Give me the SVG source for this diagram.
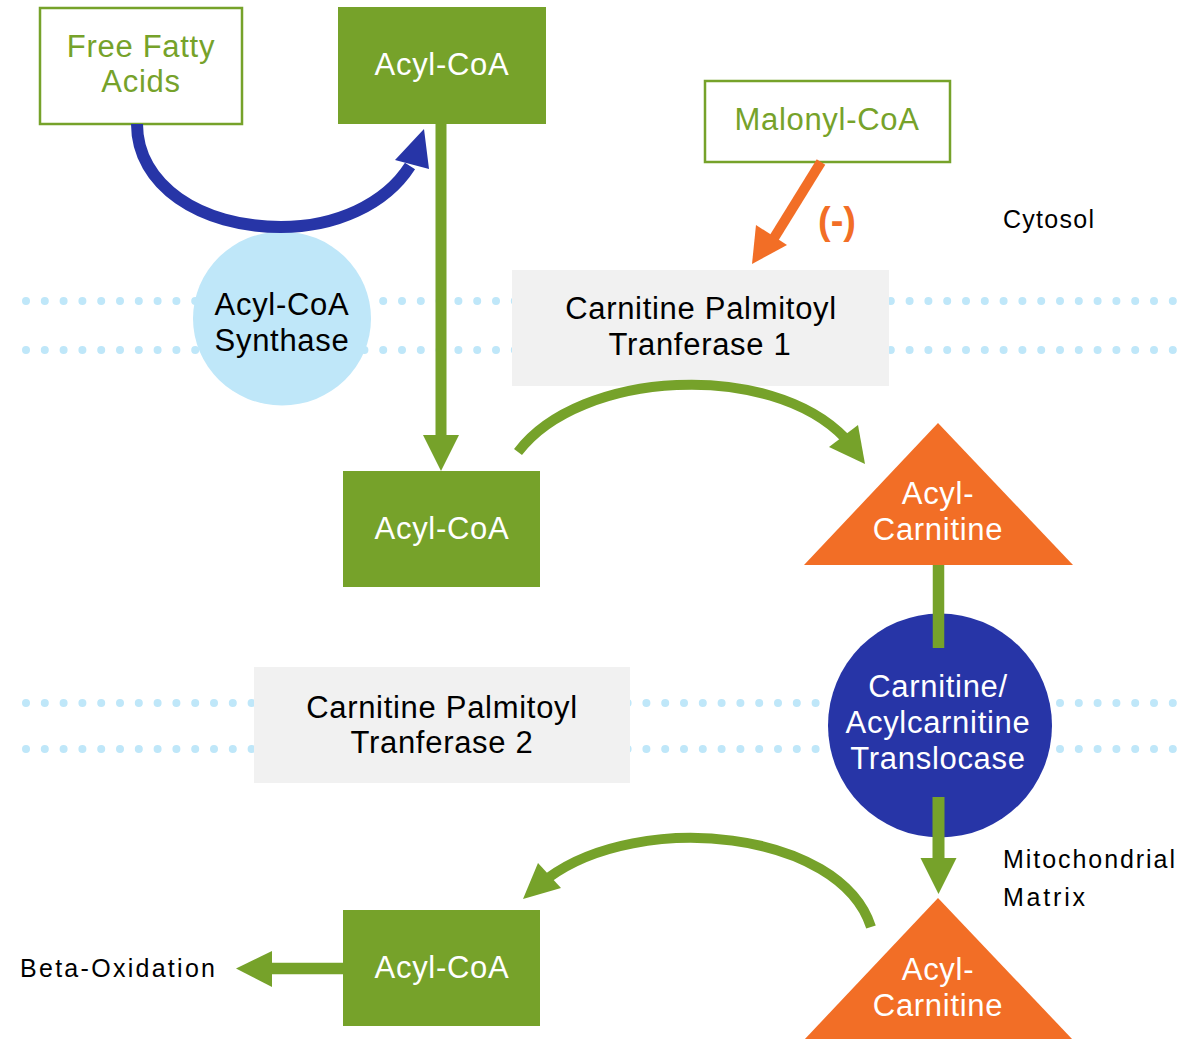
<svg xmlns="http://www.w3.org/2000/svg" width="1201" height="1039" viewBox="0 0 1201 1039">
<style>
.big{font-family:"Liberation Sans",Arial,sans-serif;font-size:31px;text-anchor:middle;letter-spacing:0.7px}
.w{fill:#ffffff}.k{fill:#000000}.g{fill:#76a22a}
.lab{font-family:"Liberation Sans",Arial,sans-serif;font-size:25px;fill:#000000}
.dots{stroke:#bfe7f9;stroke-width:8;stroke-linecap:round;stroke-dasharray:0 18.8;fill:none}
.gline{stroke:#76a22a;fill:none}
.gfill{fill:#76a22a}
</style>
<rect width="1201" height="1039" fill="#ffffff"/>
<g id="membranes">
<line class="dots" x1="26" y1="301" x2="1180" y2="301"/>
<line class="dots" x1="26" y1="350" x2="1180" y2="350"/>
<line class="dots" x1="26" y1="703" x2="1180" y2="703"/>
<line class="dots" x1="26" y1="749" x2="1180" y2="749"/>
</g>
<g id="acyl-coa-synthase">
<ellipse cx="282" cy="318.5" rx="89" ry="87" fill="#bfe7f9"/>
<text class="big k" x="282" y="315">Acyl-CoA</text>
<text class="big k" x="282" y="351">Synthase</text>
</g>
<g id="cpt1">
<rect x="512" y="270" width="377" height="116" fill="#f1f1f1"/>
<text class="big k" x="701" y="319">Carnitine Palmitoyl</text>
<text class="big k" x="700" y="355">Tranferase 1</text>
</g>
<g id="cpt2">
<rect x="254" y="667" width="376" height="116" fill="#f1f1f1"/>
<text class="big k" x="442" y="718">Carnitine Palmitoyl</text>
<text class="big k" x="442" y="753">Tranferase 2</text>
</g>
<g id="free-fatty-acids">
<rect x="40" y="8" width="202" height="116" fill="#ffffff" stroke="#76a22a" stroke-width="2.5"/>
<text class="big g" x="141" y="57">Free Fatty</text>
<text class="big g" x="141" y="92">Acids</text>
</g>
<g id="acyl-coa-top">
<rect x="338" y="7" width="208" height="117" fill="#76a22a"/>
<text class="big w" x="442" y="75">Acyl-CoA</text>
</g>
<g id="malonyl-coa">
<rect x="705" y="81" width="245" height="81" fill="#ffffff" stroke="#76a22a" stroke-width="2.5"/>
<text class="big g" x="827" y="130">Malonyl-CoA</text>
</g>
<g id="acyl-coa-mid">
<rect x="343" y="471" width="197" height="116" fill="#76a22a"/>
<text class="big w" x="442" y="539">Acyl-CoA</text>
</g>
<g id="acyl-carnitine-1">
<polygon points="938,423 1073,565 804,565" fill="#f26e26"/>
<text class="big w" x="938" y="504">Acyl-</text>
<text class="big w" x="938" y="540">Carnitine</text>
</g>
<g id="translocase">
<circle cx="940" cy="725.5" r="112" fill="#2735a7"/>
<text class="big w" x="938" y="697">Carnitine/</text>
<text class="big w" x="938" y="733">Acylcarnitine</text>
<text class="big w" x="938" y="769">Translocase</text>
</g>
<g id="acyl-carnitine-2">
<polygon points="938,898 1073,1040 804,1040" fill="#f26e26"/>
<text class="big w" x="938" y="980">Acyl-</text>
<text class="big w" x="938" y="1016">Carnitine</text>
</g>
<g id="acyl-coa-bottom">
<rect x="343" y="910" width="197" height="116" fill="#76a22a"/>
<text class="big w" x="442" y="978">Acyl-CoA</text>
</g>
<g id="labels">
<text class="lab" x="1003" y="228" textLength="91" lengthAdjust="spacing">Cytosol</text>
<text class="lab" x="1003" y="868" textLength="172" lengthAdjust="spacing">Mitochondrial</text>
<text class="lab" x="1003" y="906" textLength="82" lengthAdjust="spacing">Matrix</text>
<text class="lab" x="20" y="977" textLength="195" lengthAdjust="spacing">Beta-Oxidation</text>
<text x="837" y="234" style="font-family:'Liberation Sans',Arial,sans-serif;font-size:38px;font-weight:bold;fill:#f26e26;text-anchor:middle">(-)</text>
</g>
<g id="connectors">
<path d="M137,124 C137,185 200,227 281,227 C335,227 385,205 410,166" fill="none" stroke="#2735a7" stroke-width="12"/>
<polygon points="424,129 395,160 429,169" fill="#2735a7"/>
<line x1="441" y1="124" x2="441" y2="440" class="gline" stroke-width="11"/>
<polygon points="423,435 459,435 441,471" class="gfill"/>
<line x1="821" y1="162" x2="774" y2="238" stroke="#f26e26" stroke-width="10"/>
<polygon points="752,264 756,225 787,245" fill="#f26e26"/>
<path d="M518,452 C580,370 770,360 845,438" class="gline" stroke-width="10"/>
<polygon points="865,464 829,447 858,425" class="gfill"/>
<line x1="938.5" y1="565" x2="938.5" y2="648" class="gline" stroke-width="11.5"/>
<line x1="938.5" y1="797" x2="938.5" y2="862" class="gline" stroke-width="12"/>
<polygon points="920.5,858 956.5,858 938.5,894" class="gfill"/>
<path d="M871,927 C840,830 640,810 548,878" class="gline" stroke-width="10"/>
<polygon points="523,899 538,863 561,888" class="gfill"/>
<line x1="343" y1="968.5" x2="268" y2="968.5" class="gline" stroke-width="11.5"/>
<polygon points="236,968.5 272,951 272,987" class="gfill"/>
</g>
</svg>
